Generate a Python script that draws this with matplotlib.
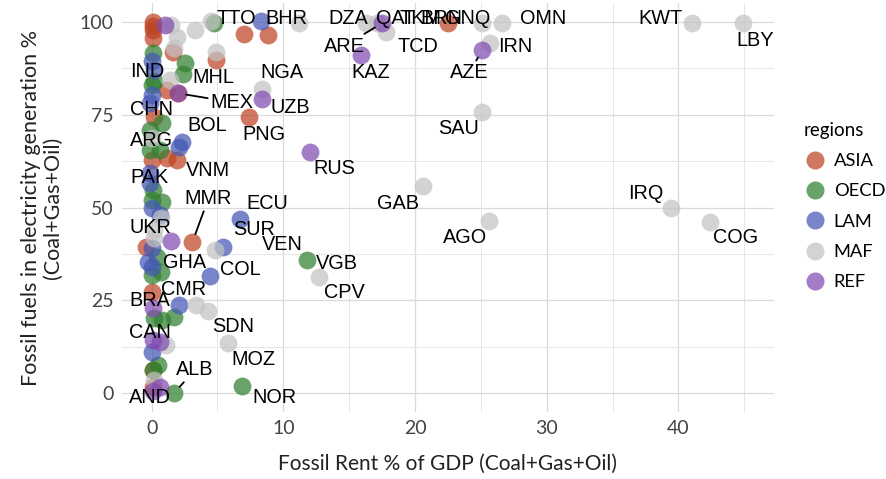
import matplotlib
matplotlib.use("Agg")
import matplotlib.pyplot as plt
from matplotlib.lines import Line2D
import numpy as np

# points per region (Fossil rent % of GDP, fossil share of electricity %)
asia_x = [0.1, 0.1, 0.1, 0.1, 1.6, 7.0, 8.8, 4.9, 1.2, 2.0, 7.4, 0.2, 0.0, 1.2, 1.9, 3.1, 22.5, -0.4, 0.0, 0.1, 0.1]
asia_y = [100, 99.0, 97.8, 95.7, 92, 96.8, 96.5, 89.8, 81.7, 80.8, 74.4, 74.4, 62.8, 63.3, 62.8, 40.7, 99.7, 39.4, 27.2, 1.6, 6.2]

oecd_x = [0.1, 2.5, 2.4, 0.2, 0.0, 0.8, -0.15, -0.15, 0.6, 0.0, 0.8, 0.1, 0.4, 0.75, 0.0, 11.8, 6.9, 1.7, 0.2, 0.8, 1.7, 0.45, 0.1, 4.7]
oecd_y = [91.6, 89, 86, 84, 83, 72.8, 71, 65.5, 65.5, 52, 51.5, 54.7, 36.7, 32.6, 31.8, 35.8, 1.9, 0, 20.2, 19.7, 20.5, 7.5, 6.2, 99.7]

lam_x = [0.0, 0.2, 0.0, -0.15, 2.3, 2.1, -0.15, -0.15, 0.0, 0.6, 0.0, -0.3, 0.0, 6.7, 5.4, 4.4, 2.1, 0.0, 8.3]
lam_y = [89.6, 87, 80.3, 78.2, 67.7, 66.3, 59.3, 56.6, 49.9, 48, 39, 35.3, 34, 47, 39.4, 31.5, 23.7, 11, 100.3]

maf_x = [1.5, 3.3, 1.9, 1.7, 4.9, 4.5, 8.4, 1.4, 11.2, 16.3, 17.1, 17.8, 25.1, 26.6, 25.7, 25.1, 41.0, 44.9,
         39.4, 42.4, 20.6, 25.6, 12.7, 4.8, 3.4, 4.3, 5.8, 1.1, 0.75, 0.0, 0.2, 0.2, 0.2]
maf_y = [99.2, 97.8, 96, 93, 92, 100.3, 82, 84.4, 99.7, 99.7, 99.7, 97.3, 99.7, 99.7, 94.3, 75.8, 99.7, 99.7,
         49.8, 46.1, 55.8, 46.4, 31.3, 38.5, 23.7, 22.1, 13.5, 12.9, 47.2, 68.7, 43.9, 41.8, 3.5]

ref_x = [1.0, 17.5, 15.9, 25.1, 8.4, 12.0, 1.5, 2.0, 0.1, 0.1, 0.6, 0.6, 0.1]
ref_y = [99.2, 99.7, 91, 92.4, 79.2, 65, 41, 80.8, 22.9, 14.3, 13.7, 1.6, 0.5]

regions = ["ASIA", "OECD", "LAM", "MAF", "REF"]
region_colors = ["#BE4424", "#308030", "#4458B5", "#C3C3C3", "#804BAF"]

# country labels (text position)
label_names = ["TTO", "BHR", "DZA", "QAT", "TKM", "BRN", "GNQ", "OMN", "KWT", "LBY", "ARE", "TCD", "IRN",
               "KAZ", "AZE", "NGA", "MHL", "IND", "MEX", "UZB", "CHN", "BOL", "PNG", "SAU", "ARG", "RUS",
               "VNM", "PAK", "MMR", "GAB", "IRQ", "ECU", "UKR", "SUR", "COG", "VEN", "AGO", "VGB", "GHA",
               "COL", "CPV", "CMR", "BRA", "SDN", "CAN", "MOZ", "ALB", "AND", "NOR"]
label_x = [6.4, 10.2, 14.9, 18.5, 20.4, 22.0, 24.0, 29.7, 38.6, 45.8, 14.6, 20.2, 27.6,
           16.6, 24.1, 9.9, 4.7, -0.3, 6.1, 10.5, 0.0, 4.2, 8.5, 23.3, 0.0, 13.9,
           4.3, -0.15, 4.3, 18.7, 37.5, 8.8, -0.1, 7.8, 44.3, 9.9, 23.8, 14.1, 2.5,
           6.7, 14.6, 2.4, -0.15, 6.2, -0.1, 7.7, 3.3, -0.1, 9.3]
label_y = [101, 101, 101, 101, 101, 101, 101, 101, 101, 95, 93.5, 93.5, 93.5,
           86.3, 86.3, 86.3, 85, 86.8, 78.4, 77, 76.3, 72.2, 69.8, 71.4, 68, 60.6,
           60, 58.2, 52.3, 51.2, 53.9, 51.2, 44.7, 44.2, 41.8, 39.9, 41.8, 35, 35.3,
           33.2, 27.2, 27.8, 24.8, 17.8, 16.2, 8.9, 6.2, -1.3, -1.3]

# labels joined to their point by a segment
leader_names = ["ARE", "AZE", "MEX", "MMR", "ALB"]
leader_x = [17.5, 25.1, 2.0, 3.1, 1.7]
leader_y = [99.7, 92.4, 80.8, 40.7, 0.0]

plt.rcParams["font.family"] = ["Lato", "DejaVu Sans"]
fig = plt.figure(figsize=(8.87, 4.79), dpi=100)
ax = fig.add_axes([0.1375, 0.1409, 0.8726 - 0.1375, 0.9927 - 0.1409])

series = [(asia_x, asia_y), (oecd_x, oecd_y), (lam_x, lam_y), (maf_x, maf_y), (ref_x, ref_y)]
for (xs, ys), col in zip(series, region_colors):
    ax.scatter(xs, ys, s=165, color=col, alpha=0.72, linewidths=0, zorder=3)

lab_font = dict(family=["Liberation Sans", "DejaVu Sans"], fontsize=14.3, color="black")
for name, lx, ly in zip(label_names, label_x, label_y):
    if name in leader_names:
        i = leader_names.index(name)
        ax.annotate(name, xy=(leader_x[i], leader_y[i]), xytext=(lx, ly), ha="center", va="center",
                    arrowprops=dict(arrowstyle="-", color="black", lw=1.3, shrinkA=0, shrinkB=6),
                    zorder=4, **lab_font)
    else:
        ax.text(lx, ly, name, ha="center", va="center", zorder=4, **lab_font)

ax.set_xlim(-2.25, 47.25)
ax.set_ylim(-5, 105)
ax.set_xticks([0, 10, 20, 30, 40])
ax.set_yticks([0, 25, 50, 75, 100])
ax.set_xticks([5, 15, 25, 35, 45], minor=True)
ax.set_yticks([12.5, 37.5, 62.5, 87.5], minor=True)
ax.grid(True, which="major", color="#DADADA", lw=0.9)
ax.grid(True, which="minor", color="#E6E6E6", lw=0.7)
ax.set_axisbelow(True)
for sp in ax.spines.values():
    sp.set_visible(False)
ax.tick_params(which="both", length=0, labelsize=14, labelcolor="#444444", pad=6)

ax.set_xlabel("Fossil Rent % of GDP (Coal+Gas+Oil)", fontsize=15, color="#222222", labelpad=12)
ax.set_ylabel("Fossil fuels in electricity generation %\n(Coal+Gas+Oil)", fontsize=15.5,
              color="#222222", labelpad=12, linespacing=1.1)

handles = [Line2D([], [], marker="o", ls="", markersize=13, markerfacecolor=c, markeredgewidth=0,
                  alpha=0.72) for c in region_colors]
leg = fig.legend(handles, regions, title="regions", loc="center left", bbox_to_anchor=(0.906, 0.57),
                 frameon=False, fontsize=13.2, title_fontsize=13.5, handlelength=1.2, handletextpad=0.45,
                 labelspacing=0.78, borderpad=0, borderaxespad=0)
leg._legend_box.align = "left"

fig.savefig("out.png", dpi=100)
